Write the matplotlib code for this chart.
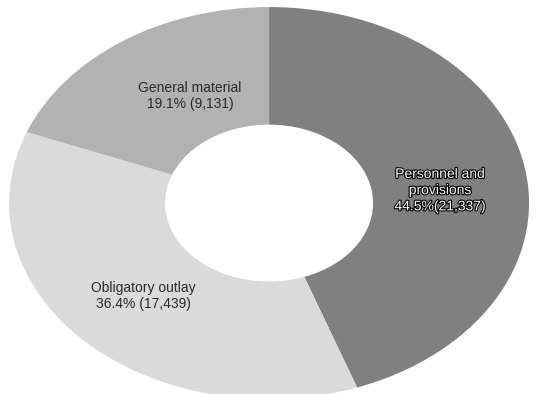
import matplotlib
matplotlib.use("Agg")
import matplotlib.pyplot as plt
import matplotlib.patheffects as pe

# data
categories = ["Personnel and\nprovisions", "Obligatory outlay", "General material"]
shares = [44.5, 36.4, 19.1]
amounts = ["21,337", "17,439", "9,131"]
colors = ["#808080", "#dadada", "#b2b2b2"]

plt.rcParams["font.family"] = ["Liberation Sans", "DejaVu Sans"]

fig = plt.figure(figsize=(5.41, 3.94), dpi=100)
ax = fig.add_axes([0, 0, 1, 1])

ax.pie(shares, colors=colors, startangle=90, counterclock=False,
       radius=1.0, wedgeprops=dict(width=0.6, edgecolor="none"))
ax.set_aspect("auto")
ax.set_xlim(-1.035, 1.046)
ax.set_ylim(-0.974, 1.036)
ax.axis("off")

# labels
ax.text(0.658, 0.066, f"{categories[0]}\n{shares[0]}%({amounts[0]})",
        ha="center", va="center", fontsize=10, color="white", linespacing=1.2,
        path_effects=[pe.withStroke(linewidth=1.6, foreground="black")])
ax.text(-0.485, -0.474, f"{categories[1]}\n{shares[1]}% ({amounts[1]})",
        ha="center", va="center", fontsize=10, color="#2a2a2a", linespacing=1.2)
ax.text(-0.304, 0.546, f"{categories[2]}\n{shares[2]}% ({amounts[2]})",
        ha="center", va="center", fontsize=10, color="#2a2a2a", linespacing=1.2)

fig.savefig("out.png", dpi=100)
